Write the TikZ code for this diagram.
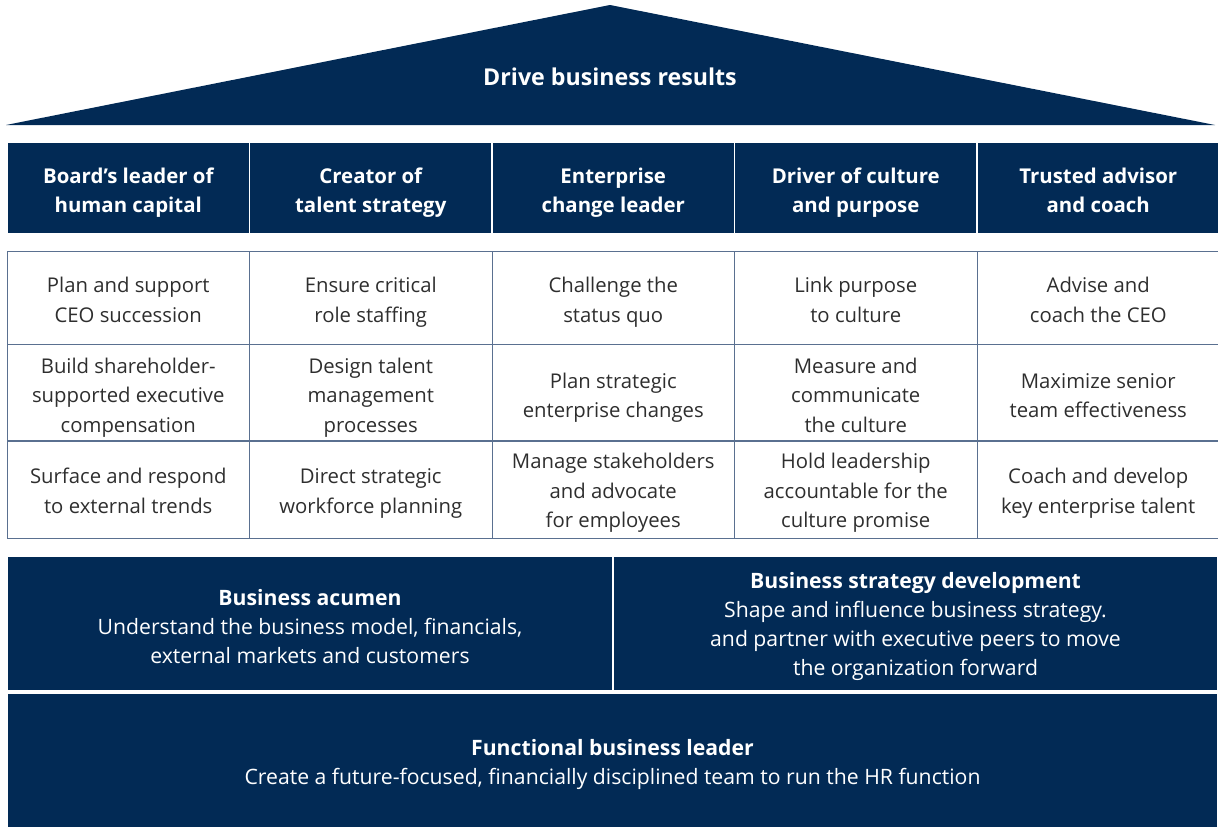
\documentclass[tikz,border=0pt]{standalone}
\usepackage{fontspec}
\setmainfont{Open Sans}
\definecolor{navy}{HTML}{022A55}
\definecolor{gridc}{HTML}{5A7090}
\definecolor{txt}{HTML}{2E2E2E}
\newcommand\liftto[1]{\rule{0pt}{#1}}
\tikzset{
  hdr/.style={fill=navy, draw=white, line width=1.5pt, minimum width=242.5pt, minimum height=92pt, inner sep=0pt, text depth=0pt, text=white, align=center, font=\fontsize{20.4}{29}\selectfont\bfseries},
  cell/.style={draw=gridc, line width=0.9pt, minimum width=242.5pt, inner sep=0pt, text depth=0pt, text=txt, align=center, font=\fontsize{20.3}{29.5}\selectfont},
  base/.style={fill=navy, draw=white, line width=1.5pt, inner sep=0pt, text depth=0pt, text=white, align=center, font=\fontsize{21.2}{29}\selectfont},
  r1/.style={cell, minimum height=93pt},
  r2/.style={cell, minimum height=96pt},
  r3/.style={cell, minimum height=97pt}
}
\begin{document}
\begin{tikzpicture}[x=1pt,y=-1pt]
\useasboundingbox (0,0) rectangle (1218,827);
\fill[navy] (6,125) -- (610,5) -- (1215,125) -- cycle;
\node[text=white, font=\fontsize{23.2}{26}\selectfont\bfseries] (title) at (610,77) {Drive business results};
% headers
\node[hdr] (h1) at (128.25,188) {\liftto{19.5pt}Board’s leader of\\human capital};
\node[hdr] (h2) at (370.75,188) {\liftto{19.5pt}Creator of\\talent strategy};
\node[hdr] (h3) at (613.25,188) {\liftto{19.5pt}Enterprise\\change leader};
\node[hdr] (h4) at (855.75,188) {\liftto{19.5pt}Driver of culture\\and purpose};
\node[hdr] (h5) at (1098.25,188) {\liftto{19.5pt}Trusted advisor\\and coach};
% row 1
\node[r1] (a1) at (128.25,298) {\liftto{18.5pt}Plan and support\\CEO succession};
\node[r1] (a2) at (370.75,298) {\liftto{18.5pt}Ensure critical\\role staffing};
\node[r1] (a3) at (613.25,298) {\liftto{18.5pt}Challenge the\\status quo};
\node[r1] (a4) at (855.75,298) {\liftto{18.5pt}Link purpose\\to culture};
\node[r1] (a5) at (1098.25,298) {\liftto{18.5pt}Advise and\\coach the CEO};
% row 2
\node[r2] (b1) at (128.25,392.5) {\liftto{20.5pt}Build shareholder-\\supported executive\\compensation};
\node[r2] (b2) at (370.75,392.5) {\liftto{20.5pt}Design talent\\management\\processes};
\node[r2] (b3) at (613.25,392.5) {\liftto{20.5pt}Plan strategic\\enterprise changes};
\node[r2] (b4) at (855.75,392.5) {\liftto{20.5pt}Measure and\\communicate\\the culture};
\node[r2] (b5) at (1098.25,392.5) {\liftto{20.5pt}Maximize senior\\team effectiveness};
% row 3
\node[r3] (c1) at (128.25,489.5) {\liftto{17.5pt}Surface and respond\\to external trends};
\node[r3] (c2) at (370.75,489.5) {\liftto{17.5pt}Direct strategic\\workforce planning};
\node[r3] (c3) at (613.25,489.5) {\liftto{17.5pt}Manage stakeholders\\and advocate\\for employees};
\node[r3] (c4) at (855.75,489.5) {\liftto{17.5pt}Hold leadership\\accountable for the\\culture promise};
\node[r3] (c5) at (1098.25,489.5) {\liftto{17.5pt}Coach and develop\\key enterprise talent};
% foundations
\node[base, minimum width=606pt, minimum height=135pt] (acu) at (310,623.5) {\liftto{22pt}\textbf{Business acumen}\\Understand the business model, financials,\\external markets and customers};
\node[base, minimum width=605pt, minimum height=135pt] (str) at (915.5,623.5) {\liftto{17pt}\textbf{Business strategy development}\\Shape and influence business strategy.\\and partner with executive peers to move\\the organization forward};
\node[base, minimum width=1211pt, minimum height=135pt] (fun) at (612.5,761) {\liftto{18pt}\textbf{Functional business leader}\\Create a future-focused, financially disciplined team to run the HR function};
\end{tikzpicture}
\end{document}
